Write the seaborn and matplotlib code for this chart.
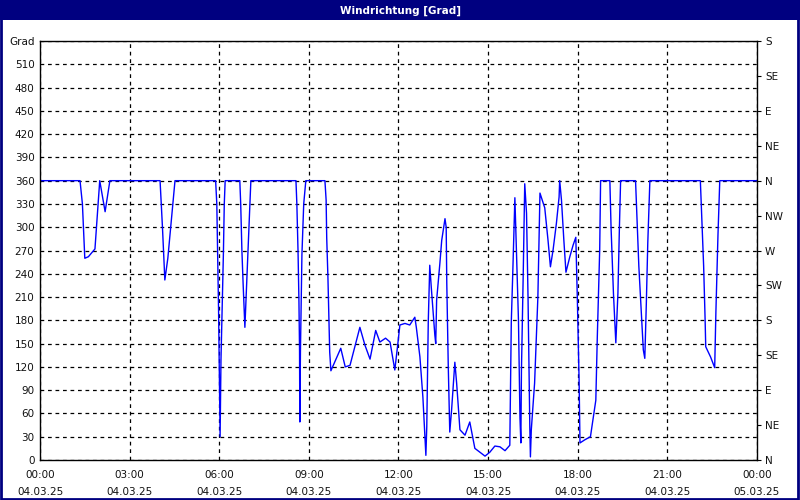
import pandas as pd
import matplotlib
matplotlib.use("Agg")
import matplotlib.pyplot as plt
from matplotlib.patches import Rectangle
import seaborn as sns

# Wind direction readings for 04.03.25 (hour of day, degrees)
hours = [0.0, 1.34, 1.42, 1.5, 1.62, 1.84, 2.0, 2.18, 2.34,
         4.02, 4.1, 4.18, 4.28, 4.52,
         5.88, 5.92, 5.95, 5.98, 6.0, 6.02, 6.03, 6.06, 6.1, 6.14, 6.17, 6.2,
         6.69, 6.72, 6.76, 6.8, 6.86, 6.92, 6.96, 7.0, 7.04, 7.06,
         8.57, 8.6, 8.64, 8.67, 8.69, 8.7, 8.72, 8.77, 8.83, 8.9,
         9.54, 9.58, 9.6, 9.64, 9.67, 9.7, 9.74, 10.07, 10.22, 10.38,
         10.71, 10.88, 11.05, 11.24, 11.38, 11.57, 11.72, 11.88, 11.97,
         12.05, 12.22, 12.38, 12.55, 12.6, 12.72, 12.82, 12.89, 12.92, 12.95,
         13.0, 13.05, 13.1, 13.22, 13.25, 13.28, 13.39, 13.45, 13.56, 13.6,
         13.62, 13.67, 13.72, 13.78, 13.89, 13.95, 14.06, 14.23, 14.39, 14.56,
         14.9, 15.06, 15.23, 15.4, 15.57, 15.73, 15.78, 15.83, 15.9, 15.96,
         16.02, 16.07, 16.1, 16.12, 16.18, 16.23, 16.29, 16.34, 16.4, 16.42,
         16.45, 16.56, 16.67, 16.74, 16.85, 16.9, 17.01, 17.09, 17.18, 17.29,
         17.38, 17.4, 17.46, 17.54, 17.61, 17.74, 17.85, 17.94, 17.99, 18.05,
         18.07, 18.08, 18.24, 18.43, 18.61, 18.66, 18.74, 18.77,
         19.08, 19.12, 19.2, 19.28, 19.35, 19.4, 19.44,
         19.94, 19.97, 20.05, 20.12, 20.2, 20.25, 20.3, 20.35, 20.42,
         22.11, 22.15, 22.22, 22.27, 22.29, 22.45, 22.59, 22.63, 22.7, 22.76,
         24.0]
degrees = [360, 360, 330, 260, 262, 272, 360, 320, 360,
           360, 300, 232, 260, 360,
           360, 330, 260, 190, 130, 65, 30, 130, 200, 265, 330, 360,
           360, 330, 270, 228, 171, 228, 268, 305, 340, 360,
           360, 330, 268, 204, 142, 49, 140, 265, 330, 360,
           360, 335, 286, 236, 189, 139, 115, 144, 120, 122,
           171, 148, 130, 167, 152, 157, 152, 116, 146,
           174, 176, 174, 184, 171, 133, 81, 30, 6, 43,
           178, 251, 223, 161, 150, 206, 254, 283, 311, 300,
           228, 120, 36, 64, 126, 99, 39, 32, 49, 15,
           5, 10, 18, 17, 12, 19, 178, 242, 338, 260,
           180, 55, 22, 116, 241, 356, 318, 210, 43, 4,
           39, 99, 210, 344, 331, 325, 283, 249, 271, 305,
           339, 360, 335, 283, 242, 262, 277, 287, 210, 103,
           48, 22, 26, 30, 77, 159, 271, 360,
           360, 300, 215, 151, 215, 300, 360,
           360, 330, 250, 200, 142, 131, 200, 280, 360,
           360, 320, 250, 180, 146, 133, 119, 190, 290, 360,
           360]

time_ticks = [0, 3, 6, 9, 12, 15, 18, 21, 24]
time_labels = ["00:00\n04.03.25", "03:00\n04.03.25", "06:00\n04.03.25",
               "09:00\n04.03.25", "12:00\n04.03.25", "15:00\n04.03.25",
               "18:00\n04.03.25", "21:00\n04.03.25", "00:00\n05.03.25"]
deg_ticks = list(range(0, 541, 30))
deg_labels = [str(d) for d in deg_ticks[:-1]] + ["Grad"]
compass_ticks = list(range(0, 541, 45))
compass_labels = ["N", "NE", "E", "SE", "S", "SW", "W", "NW",
                  "N", "NE", "E", "SE", "S"]

df = pd.DataFrame({"hour": hours, "deg": degrees})

sns.set_style("white")
plt.rcParams["font.family"] = ["DejaVu Sans"]
plt.rcParams["font.size"] = 7.5

fig = plt.figure(figsize=(8, 5), dpi=100, facecolor="white")
ax = fig.add_axes([0.05, 0.08, 0.896, 0.838])

sns.lineplot(data=df, x="hour", y="deg", ax=ax, color="#0000ff",
             linewidth=1, sort=False, estimator=None)

ax.set_xlim(0, 24)
ax.set_ylim(0, 540)
ax.set_xlabel("")
ax.set_ylabel("")
ax.set_xticks(time_ticks)
ax.set_xticklabels(time_labels, linespacing=1.9)
ax.set_xticks(range(0, 25), minor=True)
ax.set_yticks(deg_ticks)
ax.set_yticklabels(deg_labels)
ax.tick_params(axis="x", which="both", direction="out", length=3,
               color="black", pad=4, labelcolor="#111111")
ax.tick_params(axis="y", length=0, pad=4, labelcolor="#111111")
for s in ax.spines.values():
    s.set_visible(True)
    s.set_color("black")
    s.set_linewidth(1)
ax.grid(True, which="major", color="black", linestyle=(0, (3, 3)),
        linewidth=0.9)

# compass labels on the right side
ax2 = ax.twinx()
ax2.set_ylim(0, 540)
ax2.set_yticks(compass_ticks)
ax2.set_yticklabels(compass_labels)
ax2.tick_params(axis="y", direction="out", length=3, pad=3,
                color="black", labelcolor="#111111")
for s in ax2.spines.values():
    s.set_visible(False)

# title bar and window border
fig.patches.append(Rectangle((0, 0.96), 1, 0.04, transform=fig.transFigure,
                             facecolor="#000080", edgecolor="none", zorder=0))
fig.patches.append(Rectangle((0.001, 0.002), 0.997, 0.996,
                             transform=fig.transFigure, fill=False,
                             edgecolor="#000080", linewidth=2, zorder=5))
fig.text(0.5, 0.979, "Windrichtung [Grad]", color="white", fontsize=7.5,
         fontweight="bold", ha="center", va="center")

fig.savefig("out.png", dpi=100)
